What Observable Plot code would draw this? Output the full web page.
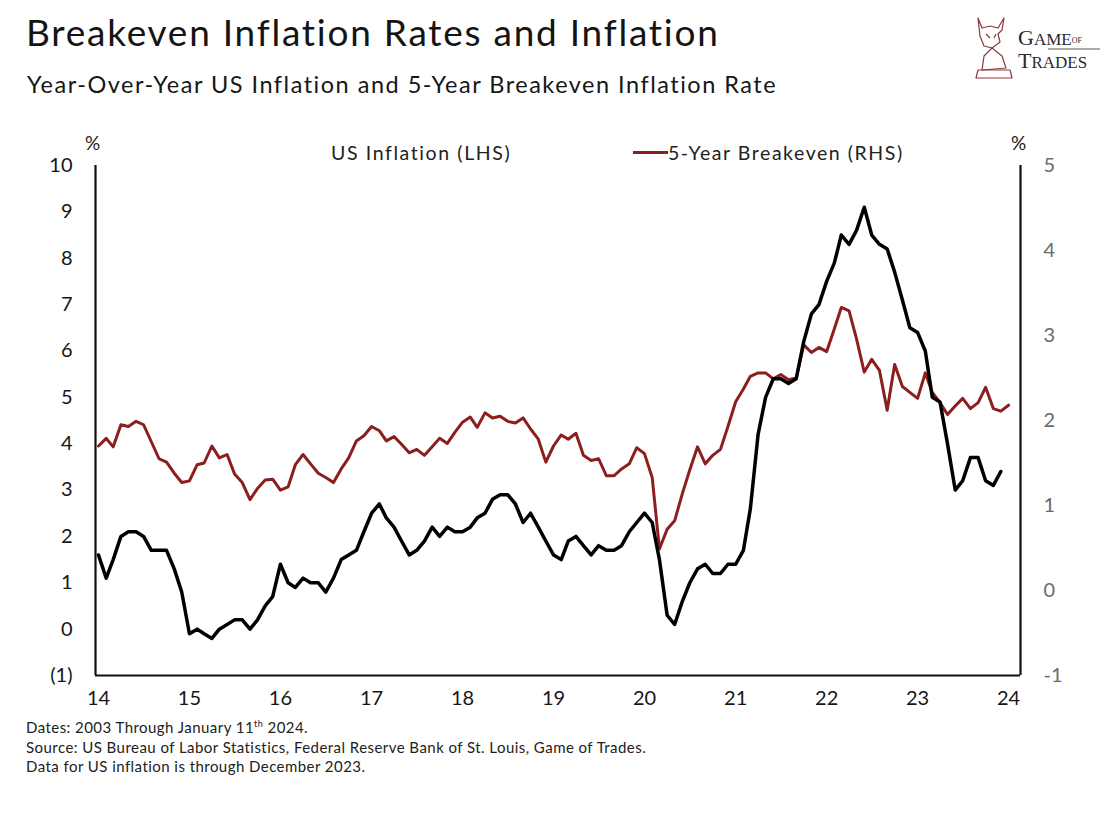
<!DOCTYPE html>
<html><head><meta charset="utf-8">
<script src="https://cdn.jsdelivr.net/npm/d3@7"></script>
<script src="https://cdn.jsdelivr.net/npm/@observablehq/plot@0.6"></script>
<style>
body{margin:0;background:#fff;}
#wrap{position:relative;width:1117px;height:813px;overflow:hidden;background:#fff;font-family:Lato,"Open Sans",sans-serif;color:#161616;}
.abs{position:absolute;white-space:nowrap;}
#title{left:26px;top:9px;font-size:37px;font-weight:400;letter-spacing:1.75px;color:#141414;}
#subtitle{left:27px;top:70px;font-size:23.5px;letter-spacing:1.5px;}
#chart{position:absolute;left:0;top:120px;}
.note{left:26px;font-size:15px;color:#222;letter-spacing:0.45px;}
.note sup{font-size:9px;vertical-align:6px;line-height:0;}
#leg1{left:331px;top:141px;font-size:19.5px;color:#222;letter-spacing:1.6px;}
#legline{left:633px;top:151px;width:35px;height:3px;background:#8b1e1e;}
#leg2{left:668px;top:141px;font-size:19.5px;color:#222;letter-spacing:1.55px;}
.pct{top:131px;font-size:19px;color:#222;}
#logo{left:968px;top:12px;}
</style></head>
<body><div id="wrap">
<div id="title" class="abs">Breakeven Inflation Rates and Inflation</div>
<div id="subtitle" class="abs">Year-Over-Year US Inflation and 5-Year Breakeven Inflation Rate</div>
<div id="leg1" class="abs">US Inflation (LHS)</div>
<div id="legline" class="abs"></div>
<div id="leg2" class="abs">5-Year Breakeven (RHS)</div>
<div class="abs pct" style="left:85px;">%</div>
<div class="abs pct" style="left:1011px;">%</div>
<div id="chart"></div>
<div class="abs note" style="top:718px;">Dates: 2003 Through January 11<sup>th</sup> 2024.</div>
<div class="abs note" style="top:738px;">Source: US Bureau of Labor Statistics, Federal Reserve Bank of St. Louis, Game of Trades.</div>
<div class="abs note" style="top:757px;">Data for US inflation is through December 2023.</div>
<svg id="logo" class="abs" width="140" height="72" viewBox="0 0 140 72">
  <g fill="none" stroke="#8b3a3a" stroke-width="1.2" stroke-linejoin="round">
    <path d="M10 6 L14 16 L22 14 L30 16 L36 6 L34 18 L30 22 L32 30 L24 36 L16 34 L12 24 Z"/>
    <path d="M24 36 L34 44 L38 56 L14 58 L16 44 Z"/>
    <path d="M10 58 L42 58 L44 66 L8 66 Z"/>
    <path d="M18 22 L22 26 M28 22 L26 26"/>
  </g>
  <g font-family="'Liberation Serif','DejaVu Serif',serif" fill="#2a2a2a">
    <text x="50" y="33" font-size="22">G<tspan font-size="17">AME</tspan><tspan font-size="8" dy="-2">OF</tspan></text>
    <line x1="80" y1="37" x2="132" y2="37" stroke="#2a2a2a" stroke-width="0.8"/>
    <text x="50" y="56" font-size="22">T<tspan font-size="17">RADES</tspan></text>
  </g>
</svg>
</div>
<script>
// ---- data ----
const startYear = 2014;
// US CPI YoY (%), monthly Jan 2014 – Dec 2023
const inflation = [
  1.6,1.1,1.5,2.0,2.1,2.1,2.0,1.7,1.7,1.7,1.3,0.8,
  -0.1,0.0,-0.1,-0.2,0.0,0.1,0.2,0.2,0.0,0.2,0.5,0.7,
  1.4,1.0,0.9,1.1,1.0,1.0,0.8,1.1,1.5,1.6,1.7,2.1,
  2.5,2.7,2.4,2.2,1.9,1.6,1.7,1.9,2.2,2.0,2.2,2.1,
  2.1,2.2,2.4,2.5,2.8,2.9,2.9,2.7,2.3,2.5,2.2,1.9,
  1.6,1.5,1.9,2.0,1.8,1.6,1.8,1.7,1.7,1.8,2.1,2.3,
  2.5,2.3,1.5,0.3,0.1,0.6,1.0,1.3,1.4,1.2,1.2,1.4,
  1.4,1.7,2.6,4.2,5.0,5.4,5.4,5.3,5.4,6.2,6.8,7.0,
  7.5,7.9,8.5,8.3,8.6,9.1,8.5,8.3,8.2,7.7,7.1,6.5,
  6.4,6.0,5.0,4.9,4.0,3.0,3.2,3.7,3.7,3.2,3.1,3.4
];
// 5-Year breakeven inflation rate (%), monthly Jan 2014 – Jan 2024
const breakeven = [
  1.70,1.79,1.69,1.95,1.93,1.99,1.95,1.75,1.55,1.51,1.38,1.27,
  1.29,1.48,1.50,1.70,1.56,1.60,1.37,1.27,1.07,1.20,1.30,1.31,
  1.18,1.22,1.48,1.60,1.49,1.38,1.33,1.27,1.43,1.56,1.76,1.82,
  1.93,1.88,1.76,1.81,1.72,1.62,1.66,1.59,1.69,1.79,1.73,1.86,
  1.98,2.04,1.92,2.09,2.03,2.05,1.99,1.97,2.03,1.90,1.78,1.51,
  1.70,1.83,1.78,1.85,1.59,1.53,1.55,1.35,1.35,1.43,1.49,1.68,
  1.61,1.33,0.49,0.72,0.82,1.14,1.42,1.69,1.49,1.59,1.66,1.93,
  2.22,2.37,2.52,2.56,2.56,2.49,2.54,2.48,2.50,2.89,2.80,2.86,
  2.81,3.08,3.33,3.29,2.96,2.57,2.72,2.59,2.12,2.66,2.40,2.33,
  2.26,2.56,2.33,2.21,2.07,2.17,2.26,2.14,2.21,2.39,2.14,2.11,
  2.18
];
const leftTicks = [-1,0,1,2,3,4,5,6,7,8,9,10];
const rightTicks = [-1,0,1,2,3,4,5];
const yearTicks = [2014,2015,2016,2017,2018,2019,2020,2021,2022,2023,2024];
const yearLabels = ["14","15","16","17","18","19","20","21","22","23","24"];

// ---- build ----
const leftDomain = [-1, 10];
const rightDomain = [-1, 5];
const toLeft = v => leftDomain[0] + (v - rightDomain[0]) * (leftDomain[1]-leftDomain[0]) / (rightDomain[1]-rightDomain[0]);
const fromLeft = v => Math.round(rightDomain[0] + (v - leftDomain[0]) * (rightDomain[1]-rightDomain[0]) / (leftDomain[1]-leftDomain[0]));
const monthDate = i => new Date(Date.UTC(startYear, i, 1));
const infData = inflation.map((v,i) => ({date: monthDate(i), value: v}));
const beData = breakeven.map((v,i) => ({date: monthDate(i), value: toLeft(v)}));
const xDomain = [new Date(Date.UTC(2013,11,20)), new Date(Date.UTC(2024,1,18))];
const yearDates = yearTicks.map(y => new Date(Date.UTC(y,0,1)));

const chart = Plot.plot({
  width: 1117, height: 600,
  marginTop: 45, marginBottom: 45, marginLeft: 95, marginRight: 97,
  style: {fontFamily: "Lato, 'Open Sans', sans-serif", fontSize: "20px", background: "transparent", color: "#161616", overflow: "visible"},
  x: {type: "utc", domain: xDomain},
  y: {domain: leftDomain},
  marks: [
    Plot.axisY(leftTicks, {anchor: "left", tickSize: 0, tickPadding: 23, label: null,
      tickFormat: d => d < 0 ? `(${-d})` : `${d}`, fill: "#161616"}),
    Plot.axisY(rightTicks.map(toLeft), {anchor: "right", tickSize: 0, tickPadding: 23, label: null,
      tickFormat: d => `${fromLeft(d)}`, fill: "#6a6a6a"}),
    Plot.axisX(yearDates, {anchor: "bottom", tickSize: 0, tickPadding: 15, label: null,
      tickFormat: d => yearLabels[yearTicks.indexOf(d.getUTCFullYear())], fill: "#161616"}),
    Plot.ruleX([xDomain[0]], {stroke: "#111", strokeWidth: 2.2}),
    Plot.ruleX([xDomain[1]], {stroke: "#111", strokeWidth: 2.2}),
    Plot.ruleY([leftDomain[0]], {stroke: "#111", strokeWidth: 2.2}),
    Plot.lineY(beData, {x: "date", y: "value", stroke: "#8b1e1e", strokeWidth: 3}),
    Plot.lineY(infData, {x: "date", y: "value", stroke: "#000", strokeWidth: 3.5})
  ]
});
document.getElementById("chart").appendChild(chart);
</script>
</body></html>
